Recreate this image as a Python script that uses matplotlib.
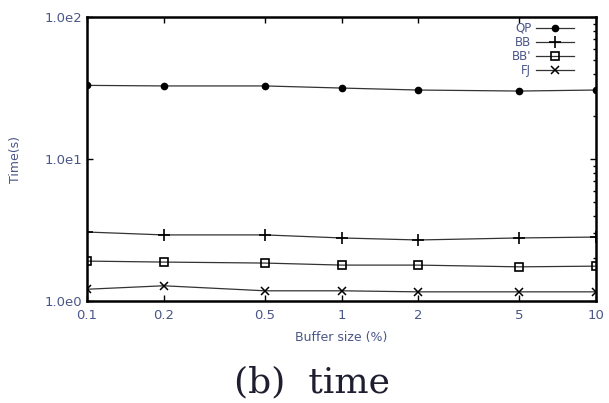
import matplotlib
matplotlib.use('Agg')
from matplotlib import pyplot as plt
from matplotlib.ticker import FixedLocator, NullLocator, LogLocator

# buffer size (%) and running time (s) per method
buffer_size = [0.1, 0.2, 0.5, 1, 2, 5, 10]
x_labels = ['0.1', '0.2', '0.5', '1', '2', '5', '10']
qp = [33.0, 32.7, 32.7, 31.6, 30.6, 30.1, 30.6]
bb = [3.06, 2.92, 2.92, 2.78, 2.69, 2.78, 2.82]
bbp = [1.91, 1.88, 1.85, 1.79, 1.79, 1.74, 1.76]
fj = [1.21, 1.28, 1.18, 1.18, 1.16, 1.16, 1.16]
y_ticks = [1, 10, 100]
y_labels = ['1.0e0', '1.0e1', '1.0e2']

label_color = '#4a5688'

fig = plt.figure(figsize=(6.09, 4.03), dpi=100)
ax = fig.add_axes([0.1429, 0.2531, 0.8358, 0.7047])

ax.plot(buffer_size, qp, color='#333333', lw=0.9, marker='o', ms=4.5,
        mfc='black', mec='black', label='QP')
ax.plot(buffer_size, bb, color='#333333', lw=0.9, marker='+', ms=8,
        mew=1.2, mec='black', label='BB')
ax.plot(buffer_size, bbp, color='#333333', lw=0.9, marker='s', ms=6,
        mfc='none', mec='black', mew=1.2, label="BB'")
ax.plot(buffer_size, fj, color='#333333', lw=0.9, marker='x', ms=6,
        mew=1.1, mec='black', label='FJ')

ax.set_xscale('log')
ax.set_yscale('log')
ax.set_xlim(0.1, 10)
ax.set_ylim(1, 100)

ax.xaxis.set_major_locator(FixedLocator(buffer_size))
ax.xaxis.set_minor_locator(NullLocator())
ax.set_xticklabels(x_labels)
ax.yaxis.set_major_locator(FixedLocator(y_ticks))
ax.yaxis.set_minor_locator(LogLocator(base=10, subs=range(2, 10)))
ax.set_yticklabels(y_labels)

ax.tick_params(which='both', direction='in', top=True, right=True,
               labelsize=9.5, labelcolor=label_color, width=1)
ax.tick_params(which='major', length=4)
ax.tick_params(which='minor', length=2)
ax.tick_params(axis='x', pad=6)
ax.tick_params(axis='y', which='minor', left=False)
for s in ax.spines.values():
    s.set_linewidth(1.8)

ax.set_xlabel('Buffer size (%)', fontsize=9, color=label_color, labelpad=6)
ax.set_ylabel('Time(s)', fontsize=9, color=label_color)
ax.yaxis.set_label_coords(-0.128, 0.5)

leg = ax.legend(loc='upper right', frameon=False, fontsize=8.5, markerfirst=False,
                handlelength=3.2, handletextpad=0.4, labelspacing=0.1,
                borderaxespad=0.2, bbox_to_anchor=(0.97, 1.008))
for t in leg.get_texts():
    t.set_color(label_color)

fig.text(0.513, 0.052, '(b)  time', ha='center', va='center',
         fontsize=26, family='DejaVu Serif', color='#1e1e30')

fig.savefig('out.png', dpi=100)
